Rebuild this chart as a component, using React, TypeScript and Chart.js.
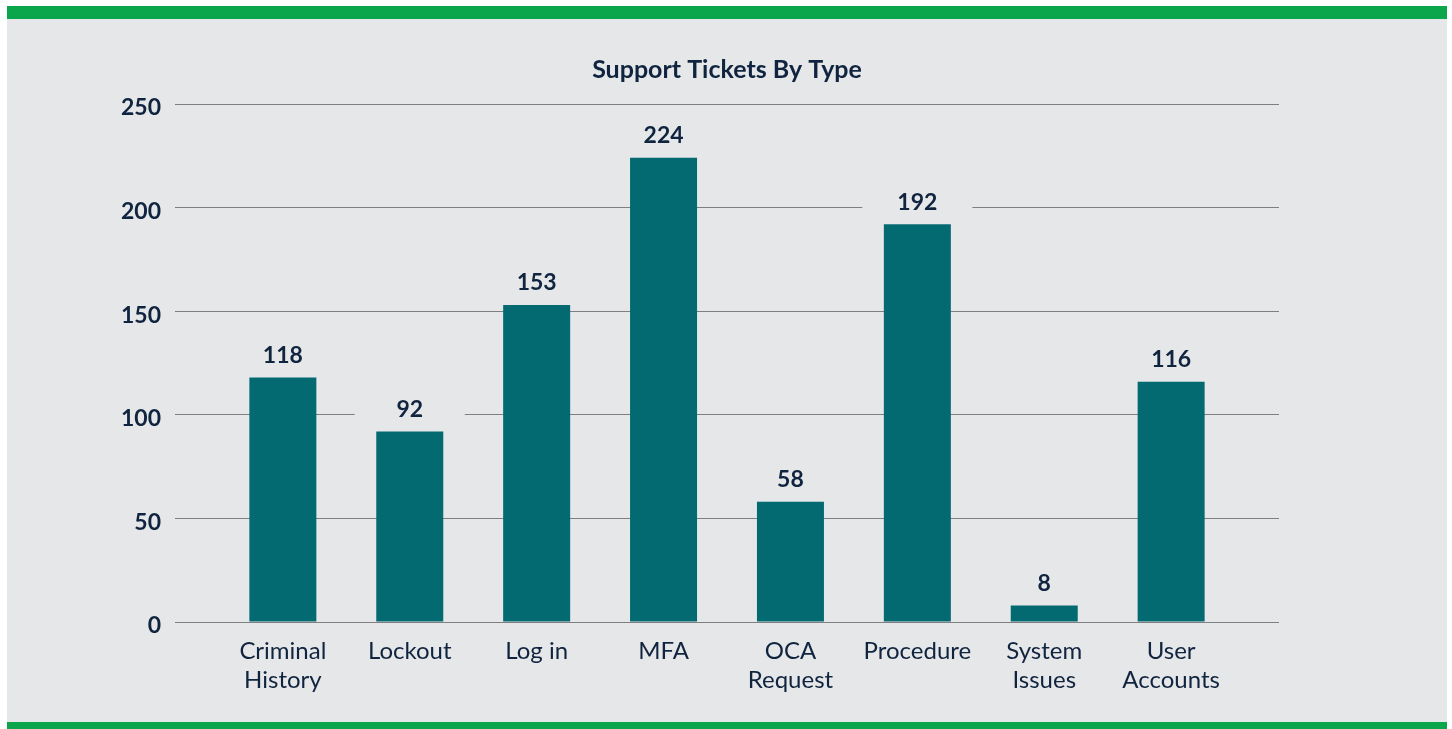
import React, { useEffect, useRef } from "react";
import { Chart, registerables } from "chart.js";

Chart.register(...registerables);

const categories: (string | string[])[] = [
  ["Criminal", "History"],
  "Lockout",
  "Log in",
  "MFA",
  ["OCA", "Request"],
  "Procedure",
  ["System", "Issues"],
  ["User", "Accounts"],
];
const ticketCounts: number[] = [118, 92, 153, 224, 58, 192, 8, 116];
const yTicks: number[] = [0, 50, 100, 150, 200, 250];
const chartTitle = "Support Tickets By Type";

const BG = "#e6e7e9";
const GREEN = "#0ba64b";
const TEAL = "#036a72";
const NAVY = "#10243f";
const FONT = "Lato, 'Noto Sans', sans-serif";

const valueLabelPlugin = {
  id: "valueLabels",
  afterDatasetsDraw(chart: any) {
    const ctx = chart.ctx;
    const meta = chart.getDatasetMeta(0);
    ctx.save();
    ctx.font = `bold 23px ${FONT}`;
    ctx.textAlign = "center";
    ctx.textBaseline = "middle";
    meta.data.forEach((bar: any, i: number) => {
      const cx = bar.x;
      const cy = bar.y - 22;
      ctx.fillStyle = BG;
      ctx.fillRect(cx - 55, cy - 15, 110, 30);
      ctx.fillStyle = NAVY;
      ctx.fillText(String(ticketCounts[i]), cx, cy);
    });
    ctx.restore();
  },
};

const titlePlugin = {
  id: "centerTitle",
  afterDraw(chart: any) {
    const ctx = chart.ctx;
    ctx.save();
    ctx.font = `bold 25px ${FONT}`;
    ctx.textAlign = "center";
    ctx.textBaseline = "middle";
    ctx.fillStyle = NAVY;
    ctx.fillText(chartTitle, 727, 70);
    ctx.restore();
  },
};

export default function App() {
  const canvasRef = useRef<HTMLCanvasElement | null>(null);

  useEffect(() => {
    if (!canvasRef.current) return;
    const chart = new Chart(canvasRef.current, {
      type: "bar",
      data: {
        datasets: [
          {
            data: ticketCounts.map((v, i) => ({ x: i, y: v })),
            backgroundColor: TEAL,
            borderWidth: 0,
            categoryPercentage: 1,
            barPercentage: 0.528,
          },
        ],
      },
      plugins: [valueLabelPlugin, titlePlugin],
      options: {
        animation: false,
        responsive: false,
        maintainAspectRatio: false,
        layout: { padding: { left: 0, right: 173, top: 104, bottom: 7 } },
        plugins: {
          legend: { display: false },
          tooltip: { enabled: false },
          title: { display: false },
        },
        scales: {
          x: {
            type: "linear",
            offset: false,
            min: -0.85,
            max: 7.85,
            grid: { display: false, drawTicks: false },
            border: { display: false },
            afterBuildTicks: (axis: any) => {
              axis.ticks = categories.map((_, i) => ({ value: i }));
            },
            afterFit: (axis: any) => {
              axis.height = 100;
            },
            ticks: {
              autoSkip: false,
              maxRotation: 0,
              minRotation: 0,
              padding: 15,
              color: NAVY,
              font: { family: FONT, size: 24, lineHeight: 1.2 },
              callback: (value: any) => categories[value as number] ?? "",
            },
          },
          y: {
            min: 0,
            max: 250,
            afterBuildTicks: (axis: any) => {
              axis.ticks = yTicks.map((v) => ({ value: v }));
            },
            afterFit: (axis: any) => {
              axis.width = 175;
            },
            grid: { color: "#7f7f81", lineWidth: 1, drawTicks: false },
            border: { display: false },
            ticks: {
              padding: 14,
              labelOffset: 4,
              color: NAVY,
              font: { family: FONT, size: 23, weight: "bold" },
            },
          },
        },
      },
    } as any);
    return () => chart.destroy();
  }, []);

  return (
    <div
      style={{
        position: "absolute",
        left: 0,
        top: 0,
        width: 1452,
        height: 729,
        background: "#ffffff",
        overflow: "hidden",
      }}
    >
      <div
        style={{
          position: "absolute",
          left: 7,
          top: 6,
          width: 1440,
          height: 723,
          background: BG,
          borderTop: `13px solid ${GREEN}`,
          borderBottom: `7px solid ${GREEN}`,
          boxSizing: "border-box",
        }}
      />
      <canvas
        ref={canvasRef}
        width={1452}
        height={729}
        style={{ position: "absolute", left: 0, top: 0, width: 1452, height: 729 }}
      />
    </div>
  );
}
